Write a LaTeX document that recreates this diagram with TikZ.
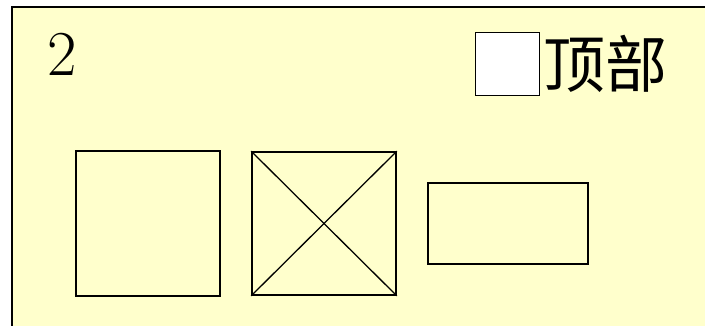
\documentclass[tikz,border=0pt]{standalone}
\usepackage{fontspec}
\newfontfamily\cjk{Noto Sans CJK SC}
\definecolor{bgyellow}{HTML}{FFFFCC}
\begin{document}
\begin{tikzpicture}[x=1pt,y=-1pt,
  boxshape/.style={draw=black,line width=1.6pt,inner sep=0pt},
  lbl/.style={inner sep=0pt,anchor=center}]
\useasboundingbox (0,0) rectangle (705,325);
\fill[white] (0,0) rectangle (705,325);
\draw[fill=bgyellow,line width=1.8pt] (12,7) -- (712,7) -- (712,332) -- (12,332) -- cycle;
\node[lbl,anchor=base] (num) at (62,75) {\fontsize{64}{66}\selectfont 2};
\node[boxshape,fill=white,minimum width=64pt,minimum height=63pt] (box) at (507.5,64) {};
\node[lbl,anchor=west] (top) at (543,64) {\cjk\fontsize{62}{64}\selectfont 顶部};
\node[boxshape,minimum width=144pt,minimum height=145pt] (sq1) at (148,223.5) {};
\node[boxshape,minimum width=144pt,minimum height=143pt] (sq2) at (324,223.5) {};
\draw[line width=1.3pt] (sq2.north west) -- (sq2.south east);
\draw[line width=1.3pt] (sq2.north east) -- (sq2.south west);
\node[boxshape,minimum width=160pt,minimum height=81pt] (rect) at (508,223.5) {};
\end{tikzpicture}
\end{document}
